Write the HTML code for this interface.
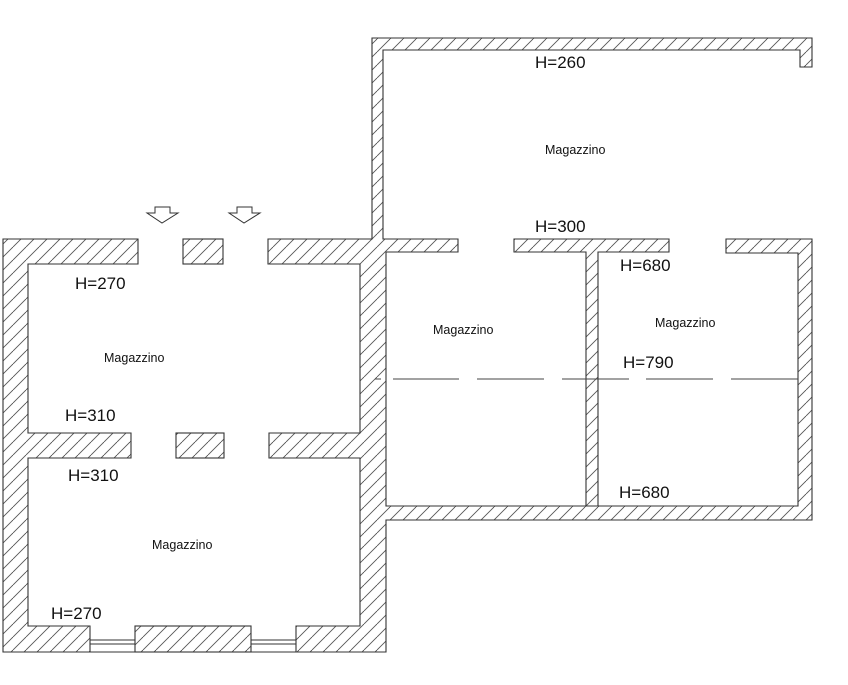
<!DOCTYPE html>
<html><head><meta charset="utf-8"><style>
html,body{margin:0;padding:0;background:#fff;}
svg{display:block;}
text{font-family:"Liberation Sans",sans-serif;fill:#111;}
.h{font-size:17px;}
.m{font-size:12.5px;}
</style></head><body>
<svg width="848" height="685" viewBox="0 0 848 685" xmlns="http://www.w3.org/2000/svg">
<defs>
<pattern id="hat" patternUnits="userSpaceOnUse" width="13" height="13" patternTransform="rotate(0)">
<line x1="0" y1="13" x2="13" y2="0" stroke="#555" stroke-width="0.9"/>
<line x1="-13" y1="13" x2="0" y2="0" stroke="#555" stroke-width="0.9"/>
<line x1="13" y1="13" x2="26" y2="0" stroke="#555" stroke-width="0.9"/>
</pattern>
</defs>
<g fill="url(#hat)" stroke="#333" stroke-width="1.1">
<polygon points="3,239 138,239 138,264 28,264 28,433 131,433 131,458 28,458 28,626 90,626 90,652 3,652"/>
<rect x="183" y="239" width="40" height="25"/>
<polygon points="268,239 372,239 372,38 812,38 812,67 800,67 800,50 383,50 383,239 458,239 458,252 386,252 386,506 798,506 798,253 726,253 726,239 812,239 812,520 386,520 386,652 296,652 296,626 360,626 360,458 269,458 269,433 360,433 360,264 268,264"/>
<polygon points="514,239 669,239 669,252 598,252 598,506 586,506 586,252 514,252"/>
<rect x="176" y="433" width="48" height="25"/>
<rect x="135" y="626" width="116" height="26"/>
</g>
<g stroke="#333" stroke-width="1">
<line x1="90" y1="640" x2="135" y2="640"/><line x1="90" y1="644" x2="135" y2="644"/><line x1="90" y1="652" x2="135" y2="652"/>
<line x1="251" y1="640" x2="296" y2="640"/><line x1="251" y1="644" x2="296" y2="644"/><line x1="251" y1="652" x2="296" y2="652"/>
</g>
<g stroke="#444" stroke-width="1">
<line x1="375" y1="379" x2="381" y2="379"/>
<line x1="393" y1="379" x2="459" y2="379"/>
<line x1="477" y1="379" x2="544" y2="379"/>
<line x1="562" y1="379" x2="629" y2="379"/>
<line x1="646" y1="379" x2="713" y2="379"/>
<line x1="731" y1="379" x2="798" y2="379"/>
</g>
<g fill="#fff" stroke="#333" stroke-width="1">
<polygon points="155,207 170,207 170,213 178,213 162,223 147,213 155,213"/>
<polygon points="237,207 252,207 252,213 260,213 244,223 229,213 237,213"/>
</g>
<text class="h" x="75" y="289">H=270</text>
<text class="h" x="65" y="421">H=310</text>
<text class="h" x="68" y="481">H=310</text>
<text class="h" x="51" y="619">H=270</text>
<text class="h" x="535" y="68">H=260</text>
<text class="h" x="535" y="232">H=300</text>
<text class="h" x="620" y="271">H=680</text>
<text class="h" x="623" y="368">H=790</text>
<text class="h" x="619" y="498">H=680</text>
<text class="m" x="104" y="362">Magazzino</text>
<text class="m" x="545" y="154">Magazzino</text>
<text class="m" x="433" y="334">Magazzino</text>
<text class="m" x="655" y="327">Magazzino</text>
<text class="m" x="152" y="549">Magazzino</text>
</svg>
</body></html>
